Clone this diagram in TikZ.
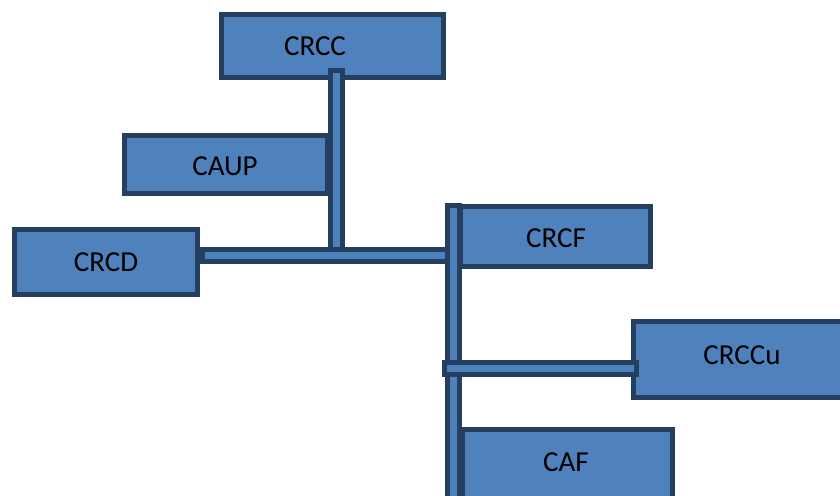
\documentclass[tikz,border=0pt]{standalone}
\usepackage{fontspec}
\setmainfont{Carlito}
\definecolor{boxfill}{HTML}{4F81BD}
\definecolor{boxline}{HTML}{243F60}
\begin{document}
\begin{tikzpicture}[x=1pt,y=-1pt,
  box/.style={draw=boxline, fill=boxfill, line width=5pt, rectangle, inner sep=0pt},
  lbl/.style={font=\fontsize{29}{34}\selectfont, text=black, inner sep=0pt},
  bar/.style={draw=boxline, line width=5pt, double=boxfill, double distance=7pt, line cap=rect}]
\useasboundingbox (0,0) rectangle (840,495);
\clip (0,0) rectangle (840,495);
% boxes
\node[box, minimum width=222pt, minimum height=63pt] (crcc) at (332.5,46) {};
\node[box, minimum width=203pt, minimum height=58pt] (caup) at (226,164.5) {};
\node[box, minimum width=183pt, minimum height=65pt] (crcd) at (106,262) {};
\node[box, minimum width=190pt, minimum height=60pt] (crcf) at (555.5,236.5) {};
\node[box, minimum width=234pt, minimum height=76pt] (crccu) at (750.5,359.5) {};
\node[box, minimum width=210pt, minimum height=88pt] (caf) at (567.5,473.5) {};
% labels
\node[lbl] (t-crcc) at (315,46) {CRCC};
\node[lbl] (t-caup) at (225,166) {CAUP};
\node[lbl] (t-crcd) at (106,262) {CRCD};
\node[lbl] (t-crcf) at (556,238) {CRCF};
\node[lbl] (t-crccu) at (742,355) {CRCCu};
\node[lbl] (t-caf) at (566,462) {CAF};
% connector points
\coordinate (v1top) at (336.5,76.5);
\coordinate (v1bot) at (336.5,254);
\coordinate (h1left) at (208.5,255);
\coordinate (h1right) at (450,255);
\coordinate (v2top) at (453.5,211.5);
\coordinate (v2bot) at (453.5,520);
\coordinate (h2left) at (450.5,368);
\coordinate (h2right) at (630.5,368);
% connectors
\draw[bar] (v1top) -- (v1bot);
\draw[bar] (h1left) -- (h1right);
\draw[bar] (v2top) -- (v2bot);
\draw[bar] (h2left) -- (h2right);
\end{tikzpicture}
\end{document}
